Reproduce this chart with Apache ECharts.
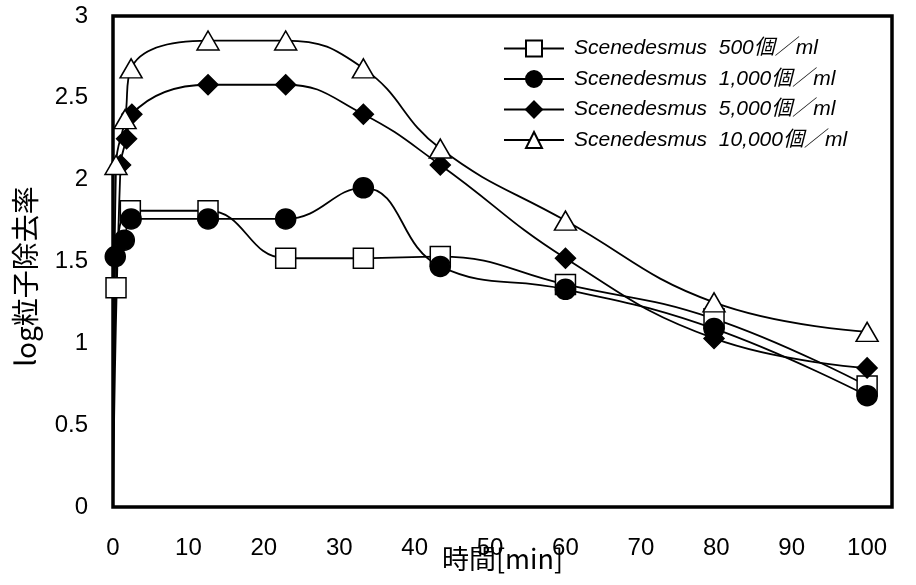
<!DOCTYPE html>
<html>
<head>
<meta charset="utf-8">
<script src="https://cdn.jsdelivr.net/npm/echarts@6/dist/echarts.min.js"></script>
<style>
  html, body { margin: 0; padding: 0; background: #fff; }
  #chart { width: 916px; height: 585px; }
</style>
</head>
<body>
<div id="chart"></div>
<script>
  // 各系列の時間[min]と log粒子除去率
  var seriesNames = [
    'Scenedesmus  500個／ml',
    'Scenedesmus  1,000個／ml',
    'Scenedesmus  5,000個／ml',
    'Scenedesmus  10,000個／ml'
  ];
  var time500 = [0, 0.4, 2.3, 12.6, 22.9, 33.2, 43.4, 60, 79.7, 100];
  var val500 = [0, 1.34, 1.81, 1.81, 1.52, 1.52, 1.53, 1.36, 1.15, 0.74];
  var time1000 = [0, 0.3, 1.5, 2.4, 12.6, 22.9, 33.2, 43.4, 60, 79.7, 100];
  var val1000 = [0, 1.53, 1.63, 1.76, 1.76, 1.76, 1.95, 1.47, 1.33, 1.09, 0.68];
  var time5000 = [0, 1.0, 1.8, 2.5, 12.6, 22.9, 33.2, 43.4, 60, 79.7, 100];
  var val5000 = [0, 2.09, 2.25, 2.40, 2.58, 2.58, 2.40, 2.09, 1.52, 1.03, 0.85];
  var time10000 = [0, 0.4, 1.6, 2.4, 12.6, 22.9, 33.2, 43.4, 60, 79.7, 100];
  var val10000 = [0, 2.09, 2.37, 2.68, 2.85, 2.85, 2.68, 2.19, 1.75, 1.25, 1.07];

  var xTicks = [0, 10, 20, 30, 40, 50, 60, 70, 80, 90, 100];

  function toData(t, v) {
    // 原点はマーカーなし
    return t.map(function (x, i) {
      return x === 0 ? { value: [x, v[i]], symbolSize: 0 } : [x, v[i]];
    });
  }

  function makeSeries(name, t, v, symbol, fill) {
    return {
      name: name,
      type: 'line',
      smooth: 0.45,
      data: toData(t, v),
      symbol: symbol,
      symbolSize: symbol === 'triangle' ? [22, 19] : 20,
      lineStyle: { color: '#000', width: 1.8 },
      itemStyle: { color: fill, borderColor: '#000', borderWidth: 1.5 },
      emphasis: { disabled: true }
    };
  }

  var myChart = echarts.init(document.getElementById('chart'));
  var option = {
    animation: false,
    backgroundColor: '#fff',
    textStyle: { fontFamily: 'Liberation Sans, Arial, Noto Sans CJK JP' },
    grid: {
      left: 113, right: 24, top: 16, bottom: 78,
      outerBoundsMode: 'none',
      containLabel: false,
      show: true, borderColor: '#000', borderWidth: 3.5, backgroundColor: '#fff'
    },
    legend: {
      orient: 'vertical',
      left: 498,
      top: 33,
      itemWidth: 60,
      itemHeight: 20,
      itemGap: 9.5,
      data: seriesNames,
      textStyle: {
        fontSize: 21,
        fontStyle: 'italic',
        color: '#000',
        padding: [0, 0, 0, 5],
        fontFamily: 'Liberation Sans, Arial, Noto Sans CJK JP'
      }
    },
    xAxis: {
      type: 'value',
      min: 0,
      max: 103.3,
      interval: 10,
      name: '時間[min]',
      nameLocation: 'middle',
      nameGap: 38,
      nameMoveOverlap: false,
      nameTextStyle: { fontSize: 27, color: '#000', fontFamily: 'Noto Sans CJK JP' },
      axisLine: { show: false },
      axisTick: { show: false },
      splitLine: { show: false },
      axisLabel: {
        fontSize: 24,
        color: '#000',
        margin: 29,
        formatter: function (v) {
          return xTicks.indexOf(v) >= 0 ? String(v) : '';
        }
      }
    },
    yAxis: {
      type: 'value',
      min: 0,
      max: 3,
      interval: 0.5,
      name: 'log粒子除去率',
      nameLocation: 'middle',
      nameRotate: 90,
      nameGap: 74,
      nameMoveOverlap: false,
      nameTextStyle: {
        fontSize: 28, color: '#000', fontFamily: 'Noto Sans CJK JP',
        padding: [0, 30, 0, 0]
      },
      axisLine: { show: false },
      axisTick: { show: false },
      splitLine: { show: false },
      axisLabel: { fontSize: 24, color: '#000', margin: 25 }
    },
    series: [
      makeSeries(seriesNames[0], time500, val500, 'rect', '#fff'),
      makeSeries(seriesNames[1], time1000, val1000, 'circle', '#000'),
      makeSeries(seriesNames[2], time5000, val5000, 'diamond', '#000'),
      makeSeries(seriesNames[3], time10000, val10000, 'triangle', '#fff')
    ]
  };
  myChart.setOption(option);
</script>
</body>
</html>
